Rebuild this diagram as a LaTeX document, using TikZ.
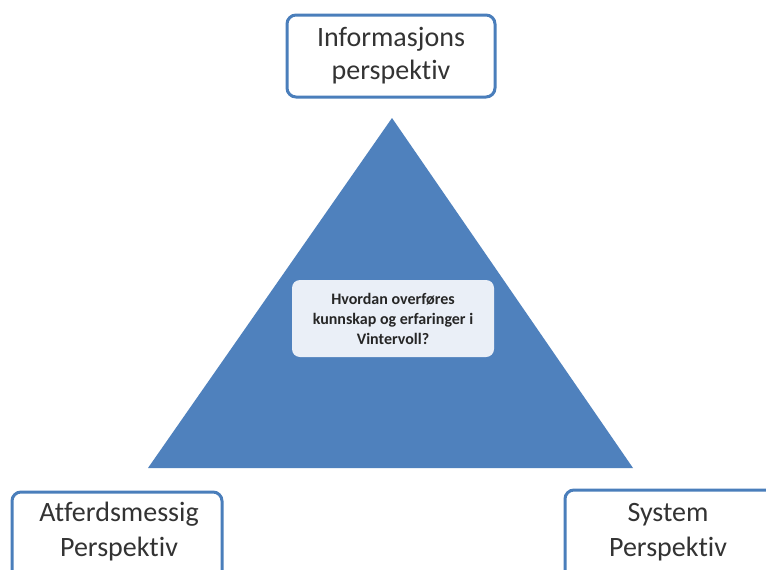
\documentclass[tikz,border=0pt]{standalone}
\usepackage{fontspec}
\setmainfont{Carlito}[Ligatures=NoCommon]
\definecolor{triblue}{HTML}{4F81BD}
\definecolor{boxline}{HTML}{4A7EBB}
\definecolor{qfill}{HTML}{EAEFF7}
\begin{document}
\begin{tikzpicture}[x=1pt,y=-1pt,
  persp/.style={draw=boxline,line width=3pt,rounded corners=9pt,fill=white,
    align=center,font=\fontsize{28}{33}\selectfont,text=black!80,inner sep=0pt},
  ptext/.style={font=\fontsize{28}{35}\selectfont,text=black!80,align=center,inner sep=0pt},
  question/.style={fill=qfill,rounded corners=8pt,align=center,
    font=\bfseries\fontsize{16}{20}\selectfont,text=black!85,inner sep=0pt}]
\useasboundingbox (0,0) rectangle (766,570);
\clip (0,0) rectangle (766,570);
\fill[white] (0,0) rectangle (766,570);
% triangle
\coordinate (apex) at (392,118);
\coordinate (bl) at (148,468);
\coordinate (br) at (633,468);
\fill[triblue] (apex) -- (br) -- (bl) -- cycle;
% question box
\node[question,minimum width=202pt,minimum height=77pt] (q) at (393,318.5)
  {Hvordan overføres\\kunnskap og erfaringer i\\Vintervoll?};
% perspective boxes
\node[persp,minimum width=208pt,minimum height=82pt] (info) at (391,56)
  {Informasjons\\perspektiv};
\node[persp,minimum width=210pt,minimum height=100pt] (atf) at (117,542)
  {};
\node[ptext] (atft) at (119,532)
  {Atferdsmessig\\Perspektiv};
\node[persp,minimum width=210pt,minimum height=100pt] (sys) at (670,540)
  {};
\node[ptext] (syst) at (668,532)
  {System\\Perspektiv};
\end{tikzpicture}
\end{document}
